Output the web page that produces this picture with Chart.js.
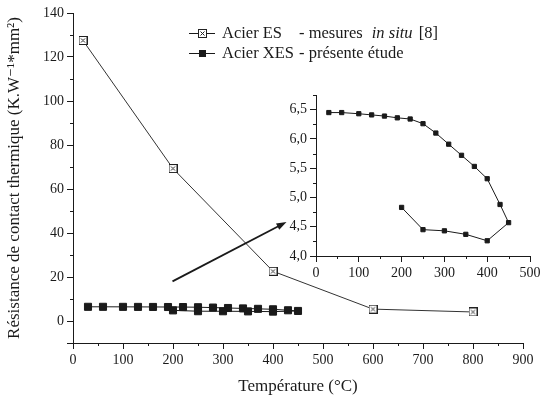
<!DOCTYPE html>
<html>
<head>
<meta charset="utf-8">
<script src="https://cdn.jsdelivr.net/npm/chart.js@4/dist/chart.umd.min.js"></script>
<style>
  html, body { margin: 0; padding: 0; background: #fff; }
  #wrap { position: relative; width: 546px; height: 396px; }
  #wrap canvas { position: absolute; left: 0; top: 0; }
</style>
</head>
<body>
<div id="wrap">
  <canvas id="main" width="546" height="396"></canvas>
  <canvas id="inset" width="546" height="396"></canvas>
</div>
<script>
// Acier ES - mesures in situ [8]
const esTemps = [20, 200, 400, 600, 800];
const esValues = [127.5, 69.3, 22.6, 5.4, 4.1];

// Acier XES - presente etude (same points in main plot and inset)
const xesTemps = [30, 60, 100, 130, 160, 190, 220, 250, 280, 310, 340, 370, 400, 430, 450, 400, 350, 300, 250, 200];
const xesValues = [6.45, 6.45, 6.43, 6.41, 6.39, 6.36, 6.34, 6.26, 6.10, 5.91, 5.72, 5.53, 5.32, 4.88, 4.57, 4.26, 4.37, 4.43, 4.45, 4.83];

const insetYTicks = [4.0, 4.5, 5.0, 5.5, 6.0, 6.5];

const legendNames = ['Acier ES', 'Acier XES'];
const xTitle = 'Température (°C)';
const yTitle = 'Résistance de contact thermique (K.W⁻¹*mm²)';

// arrow from main plot toward inset, in main-plot data units
const arrowFrom = [199, 18];
const arrowTo = [427, 45];

const FONT = '"Liberation Serif", "DejaVu Serif", serif';
const INK = '#1a1a1a';
Chart.defaults.font.family = FONT;
Chart.defaults.color = INK;

const pts = (xs, ys) => xs.map((x, i) => ({ x: x, y: ys[i] }));

// crossed square marker
const crossBox = document.createElement('canvas');
crossBox.width = 9; crossBox.height = 9;
(function () {
  const c = crossBox.getContext('2d');
  c.fillStyle = '#fff';
  c.fillRect(0.5, 0.5, 8, 8);
  c.strokeStyle = '#222';
  c.lineWidth = 1;
  c.strokeRect(0.5, 0.5, 8, 8);
  c.beginPath();
  c.moveTo(2.5, 2.5); c.lineTo(6.5, 6.5);
  c.moveTo(6.5, 2.5); c.lineTo(2.5, 6.5);
  c.stroke();
})();

const minorTicks = {
  id: 'minorTicks',
  afterDraw(chart, args, opts) {
    const ctx = chart.ctx;
    ctx.save();
    ctx.strokeStyle = INK;
    ctx.lineWidth = 1;
    ['x', 'y'].forEach(k => {
      const s = chart.scales[k];
      const step = opts[k], major = opts[k + 'Major'];
      for (let v = s.min; v <= s.max + 1e-9; v += step) {
        const r = Math.round(v / major * 1000) / 1000;
        if (Math.abs(r - Math.round(r)) < 1e-6) continue;
        const p = Math.round(s.getPixelForValue(v)) + 0.5;
        ctx.beginPath();
        if (k === 'x') { ctx.moveTo(p, s.top); ctx.lineTo(p, s.top + opts.len); }
        else { ctx.moveTo(s.right, p); ctx.lineTo(s.right - opts.len, p); }
        ctx.stroke();
      }
    });
    ctx.restore();
  }
};

const arrow = {
  id: 'arrow',
  afterDatasetsDraw(chart) {
    const x = chart.scales.x, y = chart.scales.y, ctx = chart.ctx;
    const x0 = x.getPixelForValue(arrowFrom[0]), y0 = y.getPixelForValue(arrowFrom[1]);
    const x1 = x.getPixelForValue(arrowTo[0]), y1 = y.getPixelForValue(arrowTo[1]);
    const a = Math.atan2(y1 - y0, x1 - x0), L = 10, W = 3.5;
    ctx.save();
    ctx.strokeStyle = INK; ctx.fillStyle = INK; ctx.lineWidth = 1.8;
    ctx.beginPath();
    ctx.moveTo(x0, y0);
    ctx.lineTo(x1 - L * 0.7 * Math.cos(a), y1 - L * 0.7 * Math.sin(a));
    ctx.stroke();
    ctx.beginPath();
    ctx.moveTo(x1, y1);
    ctx.lineTo(x1 - L * Math.cos(a) + W * Math.sin(a), y1 - L * Math.sin(a) - W * Math.cos(a));
    ctx.lineTo(x1 - L * Math.cos(a) - W * Math.sin(a), y1 - L * Math.sin(a) + W * Math.cos(a));
    ctx.closePath();
    ctx.fill();
    ctx.restore();
  }
};

const textLegend = {
  id: 'textLegend',
  afterDraw(chart) {
    const ctx = chart.ctx;
    const lx0 = 189, lx1 = 215, tx = 222, rows = [33, 53];
    const reg = '16.5px ' + FONT, ita = 'italic 16.5px ' + FONT;
    ctx.save();
    ctx.font = reg;
    const descX = tx + ctx.measureText(legendNames[1] + ' ').width + 1;
    rows.forEach((yy, i) => {
      ctx.strokeStyle = INK; ctx.lineWidth = 1;
      ctx.beginPath(); ctx.moveTo(lx0, yy + 0.5); ctx.lineTo(lx1, yy + 0.5); ctx.stroke();
      const cx = (lx0 + lx1) / 2;
      if (i === 0) ctx.drawImage(crossBox, Math.round(cx - 4.5), Math.round(yy - 4));
      else { ctx.fillStyle = INK; ctx.fillRect(Math.round(cx - 3.5), Math.round(yy - 3), 7, 7); }
      ctx.fillStyle = INK; ctx.textBaseline = 'middle'; ctx.font = reg;
      ctx.fillText(legendNames[i], tx, yy + 1);
      let x = descX;
      if (i === 0) {
        ctx.fillText('- mesures', x, yy + 1); x += ctx.measureText('- mesures').width + 9;
        ctx.font = ita; ctx.fillText('in situ', x, yy + 1); x += ctx.measureText('in situ').width;
        ctx.font = reg; ctx.fillText(' [8]', x + 2, yy + 1);
      } else {
        ctx.fillText('- présente étude', x, yy + 1);
      }
    });
    ctx.restore();
  }
};

function axis(min, max, step, major, fmt, extra) {
  return Object.assign({
    type: 'linear', min: min, max: max,
    grid: { drawOnChartArea: false, tickLength: 6, color: INK, tickColor: INK },
    border: { display: true, color: INK, width: 1 },
    ticks: {
      stepSize: step, autoSkip: false, maxRotation: 0,
      font: { size: 14 }, color: INK,
      callback: v => (Math.abs(v / major - Math.round(v / major)) < 1e-6 && v >= min) ? fmt(v) : ''
    }
  }, extra);
}

new Chart(document.getElementById('main'), {
  type: 'line',
  data: {
    datasets: [
      {
        data: pts(esTemps, esValues), borderColor: '#333', borderWidth: 1,
        pointStyle: crossBox, tension: 0
      },
      {
        data: pts(xesTemps, xesValues), borderColor: INK, borderWidth: 1,
        pointStyle: 'rect', pointRadius: 5, backgroundColor: INK, pointBorderColor: INK, tension: 0
      }
    ]
  },
  options: {
    responsive: false, animation: false, devicePixelRatio: 1,
    layout: { padding: { left: 0, right: 23, top: 13, bottom: 0 } },
    plugins: {
      legend: { display: false }, tooltip: { enabled: false },
      minorTicks: { x: 50, xMajor: 100, y: 10, yMajor: 20, len: 3 }
    },
    scales: {
      x: axis(0, 900, 100, 100, v => String(v), {
        afterFit: s => { s.height = 53; },
        title: { display: true, text: xTitle, font: { size: 17, lineHeight: 1.1 }, color: INK, padding: { top: 0, bottom: 0 } }
      }),
      y: axis(-10, 140, 20, 20, v => v < 0 ? '' : String(v), {
        afterFit: s => { s.width = 73; },
        title: { display: true, text: yTitle, font: { size: 17, lineHeight: 1.2 }, color: INK, padding: { top: 4, bottom: 0 } }
      })
    }
  },
  plugins: [minorTicks, arrow, textLegend]
});

new Chart(document.getElementById('inset'), {
  type: 'line',
  data: {
    datasets: [{
      data: pts(xesTemps, xesValues), borderColor: INK, borderWidth: 1,
      pointStyle: 'rect', pointRadius: 3, backgroundColor: INK, pointBorderColor: INK, tension: 0
    }]
  },
  options: {
    responsive: false, animation: false, devicePixelRatio: 1,
    layout: { padding: { left: 272, right: 16, top: 95, bottom: 116 } },
    plugins: {
      legend: { display: false }, tooltip: { enabled: false },
      minorTicks: { x: 50, xMajor: 100, y: 0.25, yMajor: 0.5, len: 3 }
    },
    scales: {
      x: axis(0, 500, 100, 100, v => String(v), {
        afterFit: s => { s.height = 24; }
      }),
      y: axis(4, 6.75, 0.5, 0.5, v => v.toFixed(1).replace('.', ','), {
        afterBuildTicks: s => { s.ticks = insetYTicks.map(v => ({ value: v })); },
        afterFit: s => { s.width = 44; }
      })
    }
  },
  plugins: [minorTicks]
});
</script>
</body>
</html>
